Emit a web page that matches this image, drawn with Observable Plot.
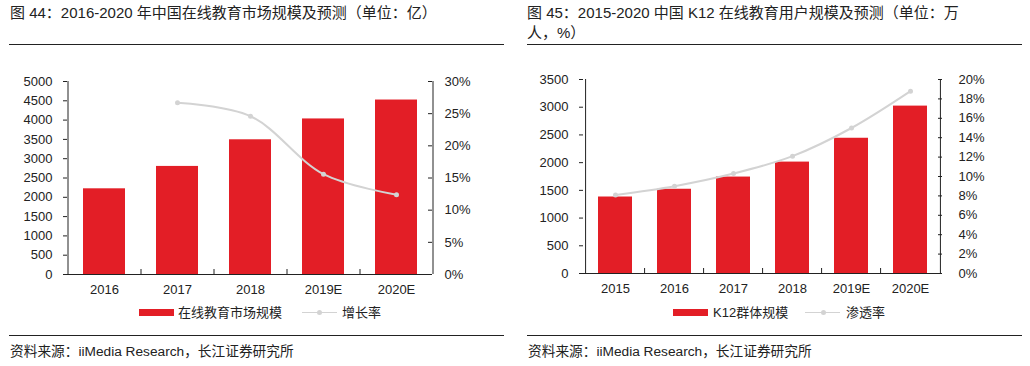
<!DOCTYPE html>
<html><head><meta charset="utf-8">
<script src="https://cdn.jsdelivr.net/npm/d3@7"></script>
<script src="https://cdn.jsdelivr.net/npm/@observablehq/plot@0.6"></script>
<style>
body{margin:0;background:#fff;font-family:"Liberation Sans",Arial,"Noto Sans CJK SC",sans-serif;color:#222;}
#root{position:relative;width:1030px;height:366px;overflow:hidden}
.title{position:absolute;top:3px;font-size:15px;line-height:20px;white-space:nowrap}
.hr{position:absolute;height:1px;background:#222}
.chart{position:absolute;top:60px}
.lg{position:absolute;font-size:13px;line-height:16px;top:305px;white-space:nowrap}
.sw{position:absolute;top:309px;height:7px;width:35px;background:#e31e26}
.ln{position:absolute;top:312px;height:1px;width:35px;background:#d3d3d3}
.dt{position:absolute;top:310px;width:5px;height:5px;border-radius:50%;background:#d3d3d3}
.src{position:absolute;top:344px;font-size:13.7px;line-height:16px;white-space:nowrap}
</style>
</head><body>
<div id="root">
  <div class="title" style="left:10px">图 44：2016-2020 年中国在线教育市场规模及预测（单位：亿）</div>
  <div class="title" style="left:527px">图 45：2015-2020 中国 K12 在线教育用户规模及预测（单位：万<br>人，%）</div>
  <div class="hr" style="left:9px;width:495px;top:44px"></div>
  <div class="hr" style="left:527px;width:495px;top:44px"></div>
  <div class="chart" id="c1" style="left:0px"></div>
  <div class="chart" id="c2" style="left:515px"></div>
  <div class="sw" style="left:139px"></div><div class="lg" style="left:178px">在线教育市场规模</div>
  <div class="ln" style="left:302px"></div><div class="dt" style="left:317px"></div><div class="lg" style="left:342px">增长率</div>
  <div class="sw" style="left:673px"></div><div class="lg" style="left:713px">K12群体规模</div>
  <div class="ln" style="left:805px"></div><div class="dt" style="left:821px"></div><div class="lg" style="left:846px">渗透率</div>
  <div class="hr" style="left:9px;width:495px;top:335px"></div>
  <div class="hr" style="left:527px;width:495px;top:335px"></div>
  <div class="src" style="left:10px">资料来源：iiMedia Research，长江证券研究所</div>
  <div class="src" style="left:528px">资料来源：iiMedia Research，长江证券研究所</div>
</div>
<script>
// Chart 1: 在线教育市场规模 (亿) and 增长率 (%)
const cats1 = ["2016", "2017", "2018", "2019E", "2020E"];
const market1 = [2220, 2800, 3490, 4030, 4520];
const growth1 = [null, 26.7, 24.6, 15.6, 12.4];
const yTicks1 = [0, 500, 1000, 1500, 2000, 2500, 3000, 3500, 4000, 4500, 5000];
const pTicks1 = [0, 5, 10, 15, 20, 25, 30];

// Chart 2: K12群体规模 (万人) and 渗透率 (%)
const cats2 = ["2015", "2016", "2017", "2018", "2019E", "2020E"];
const users2 = [1380, 1520, 1740, 2010, 2440, 3020];
const pen2 = [8.1, 9.0, 10.3, 12.1, 15.0, 18.8];
const yTicks2 = [0, 500, 1000, 1500, 2000, 2500, 3000, 3500];
const pTicks2 = [0, 2, 4, 6, 8, 10, 12, 14, 16, 18, 20];

const FONT = '"Liberation Sans", Arial, "Noto Sans CJK SC", sans-serif';
const RED = "#e31e26", GRAY = "#d3d3d3", INK = "#222";

function chart({cats, bars, rates, yTicks, pTicks, width, height, marginLeft, marginRight, marginTop, marginBottom, rightPad}) {
  const yMax = yTicks[yTicks.length - 1];
  const pMax = pTicks[pTicks.length - 1];
  const k = yMax / pMax;
  const plotW = width - marginLeft - marginRight;
  const plotH = height - marginTop - marginBottom;
  const step = plotW / cats.length;
  const barData = cats.map((c, i) => ({c, v: bars[i]}));
  const lineData = cats.map((c, i) => ({c, p: rates[i]})).filter(d => d.p != null);
  const pVals = pTicks.map(p => p * k);
  return Plot.plot({
    width, height, marginLeft, marginRight, marginTop, marginBottom,
    style: {fontFamily: FONT, fontSize: "13px", color: INK, background: "transparent"},
    x: {domain: cats, paddingInner: 0.425, paddingOuter: 0.2125, label: null},
    y: {domain: [0, yMax], label: null},
    marks: [
      Plot.barY(barData, {x: "c", y: "v", fill: RED}),
      Plot.line(lineData, {x: "c", y: d => d.p * k, stroke: GRAY, strokeWidth: 2, curve: "catmull-rom"}),
      Plot.dot(lineData, {x: "c", y: d => d.p * k, fill: GRAY, r: 2.5}),
      Plot.ruleY([0], {stroke: INK}),
      Plot.ruleX([cats[0]], {dx: -step / 2, stroke: INK}),
      Plot.ruleX([cats[cats.length - 1]], {dx: step / 2, stroke: INK}),
      Plot.ruleX(cats.slice(1), {dx: -step / 2, insetTop: plotH - 5, stroke: INK}),
      Plot.ruleY(pVals, {insetLeft: plotW - 4, stroke: INK}),
      Plot.axisY(yTicks, {anchor: "left", tickSize: 4, tickPadding: 11, stroke: INK, tickFormat: d => String(d)}),
      Plot.axisY(pVals, {anchor: "right", tickSize: 0, tickPadding: rightPad, tickFormat: d => Math.round(d / k) + "%"}),
      Plot.axisX(cats, {tickSize: 0, tickPadding: 10})
    ]
  });
}

document.getElementById("c1").append(chart({
  cats: cats1, bars: market1, rates: growth1, yTicks: yTicks1, pTicks: pTicks1,
  width: 515, height: 240, marginLeft: 67, marginRight: 83, marginTop: 21, marginBottom: 26, rightPad: 12
}));
document.getElementById("c2").append(chart({
  cats: cats2, bars: users2, rates: pen2, yTicks: yTicks2, pTicks: pTicks2,
  width: 515, height: 240, marginLeft: 68, marginRight: 88, marginTop: 19, marginBottom: 27, rightPad: 16
}));
</script>
</body></html>
